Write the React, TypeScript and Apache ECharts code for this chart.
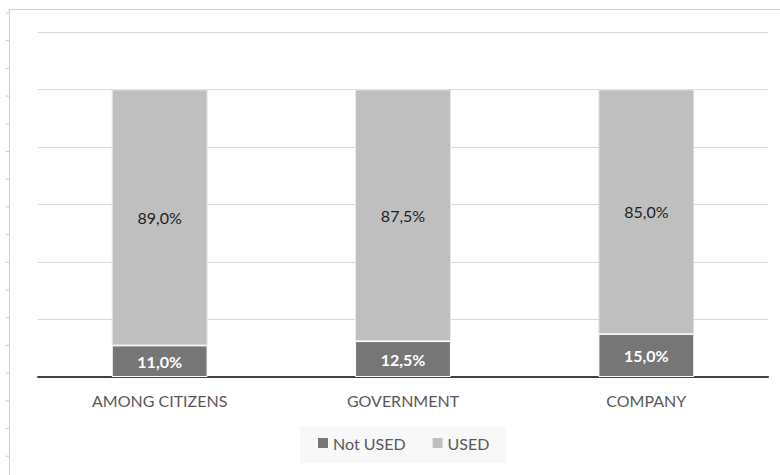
import React, { useEffect, useRef } from "react";
import * as echarts from "echarts";

const categories = ["AMONG CITIZENS", "GOVERNMENT", "COMPANY"];
const notUsed = [11.0, 12.5, 15.0];
const used = [89.0, 87.5, 85.0];
const seriesNames = ["Not USED", "USED"];

const fmt = (v: number) => v.toFixed(1).replace(".", ",") + "%";
const FONT = "Lato, 'Noto Sans', sans-serif";

export default function App() {
  const ref = useRef<HTMLDivElement>(null);
  useEffect(() => {
    if (!ref.current) return;
    const chart = echarts.init(ref.current, undefined, { renderer: "svg" });
    const ticks: any[] = [];
    for (let i = 0; i < 17; i++) {
      const y = 13 + i * 27.7;
      ticks.push({
        type: "line",
        shape: { x1: 6, y1: y, x2: 9, y2: y },
        style: { stroke: "#c8c8c8", lineWidth: 1 },
        silent: true,
      });
    }
    chart.setOption({
      animation: false,
      backgroundColor: "#ffffff",
      textStyle: { fontFamily: FONT },
      graphic: [
        {
          type: "line",
          shape: { x1: 9.5, y1: 9.5, x2: 780, y2: 9.5 },
          style: { stroke: "#d0d0d0", lineWidth: 1 },
          silent: true,
        },
        {
          type: "line",
          shape: { x1: 9.5, y1: 9.5, x2: 9.5, y2: 475 },
          style: { stroke: "#d0d0d0", lineWidth: 1 },
          silent: true,
        },
        ...ticks,
        {
          type: "rect",
          shape: { x: 300, y: 426, width: 206, height: 37 },
          style: { fill: "#f8f8f8" },
          silent: true,
          z: -1,
        },
      ],
      grid: { left: 38, right: 12, top: 32, bottom: 98 },
      legend: {
        data: seriesNames,
        left: 313,
        top: 430,
        itemWidth: 10,
        itemHeight: 10,
        itemGap: 27,
        itemStyle: { borderWidth: 0 },
        icon: "rect",
        textStyle: { color: "#595959", fontSize: 16, fontFamily: FONT },
      },
      xAxis: {
        type: "category",
        data: categories,
        axisLine: { lineStyle: { color: "#404040", width: 2 } },
        axisTick: { show: false },
        axisLabel: { color: "#595959", fontSize: 16, margin: 15, fontFamily: FONT },
      },
      yAxis: {
        type: "value",
        min: 0,
        max: 120,
        interval: 20,
        axisLabel: { show: false },
        axisLine: { show: false },
        axisTick: { show: false },
        splitLine: { lineStyle: { color: "#d9d9d9", width: 1 } },
      },
      series: [
        {
          name: seriesNames[0],
          type: "bar",
          stack: "total",
          data: notUsed,
          barWidth: "39.4%",
          itemStyle: { color: "#767676", borderColor: "#ffffff", borderWidth: 1 },
          label: {
            show: true,
            position: "inside",
            color: "#ffffff",
            fontWeight: "bold",
            fontSize: 16,
            fontFamily: FONT,
            formatter: (p: any) => fmt(p.value),
          },
        },
        {
          name: seriesNames[1],
          type: "bar",
          stack: "total",
          data: used,
          itemStyle: { color: "#bfbfbf", borderColor: "#e6e6e6", borderWidth: 1 },
          label: {
            show: true,
            position: "inside",
            color: "#1e1e1e",
            fontSize: 16,
            fontFamily: FONT,
            formatter: (p: any) => fmt(p.value),
          },
        },
      ],
    });
    return () => chart.dispose();
  }, []);
  return (
    <div
      ref={ref}
      style={{ position: "fixed", left: 0, top: 0, width: 780, height: 475 }}
    />
  );
}
